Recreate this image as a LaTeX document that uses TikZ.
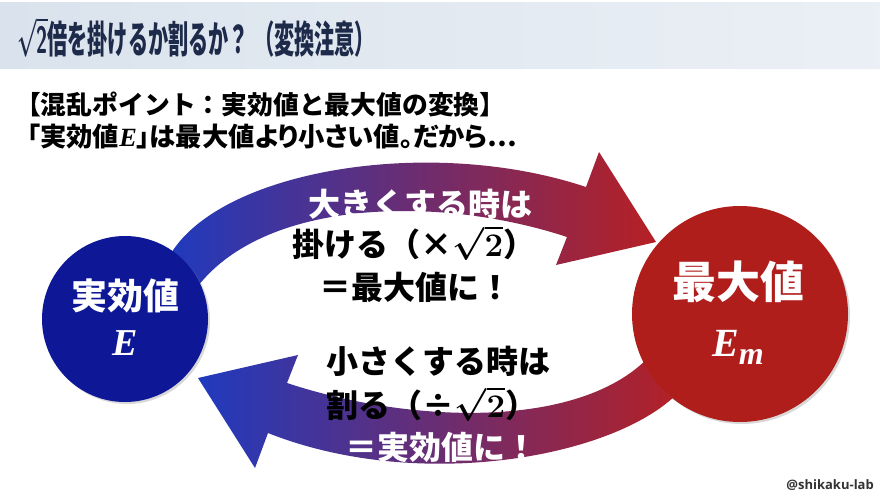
\documentclass[tikz,border=0pt]{standalone}
\usepackage{fix-cm}
\usepackage{amsmath,amssymb}
\usepackage{fontspec}
\usetikzlibrary{shadows}
\newfontfamily\jp{Noto Sans CJK JP}
\newfontfamily\jpp{Noto Sans CJK JP}[RawFeature=+palt]
\newfontfamily\serifE{Liberation Serif}
\newfontfamily\wmfont{Open Sans}
\definecolor{titlebg}{HTML}{DAE3ED}
\definecolor{titlecol}{HTML}{1E2A4A}
\definecolor{circblue}{RGB}{14,24,150}
\definecolor{circred}{RGB}{176,30,28}
\definecolor{arrblue}{RGB}{32,58,190}
\definecolor{arrmid}{RGB}{105,40,125}
\definecolor{arrred}{RGB}{182,32,36}
\newcommand\bigroot{\smash{\fontsize{33}{33}\selectfont\boldmath$\sqrt{2}$}}
\newcommand\titleroot{\smash{\boldmath$\sqrt{\mathsf{2}}$}}
\tikzset{
  arrtext/.style={inner sep=0pt, font=\fontsize{32}{32}\selectfont\jp\bfseries},
  leadtext/.style={inner sep=0pt, anchor=west, text=black, font=\fontsize{25.8}{26}\selectfont\jp\bfseries},
  circnode/.style={circle, inner sep=0pt, drop shadow={opacity=0.3, shadow xshift=2pt, shadow yshift=-2pt}},
  circtext/.style={inner sep=0pt, text=white}
}
\begin{document}
\begin{tikzpicture}[x=1pt,y=-1pt]
\useasboundingbox (0,0) rectangle (880,495);
\fill[white] (0,0) rectangle (880,495);
\shade[left color=titlebg, right color=titlebg!55!white] (0,3) rectangle (880,68);
\node[anchor=west, inner sep=0pt, text=titlecol] (title) at (17,39)
  {\scalebox{0.53}[1]{\fontsize{38}{38}\selectfont\jp\bfseries\titleroot 倍を掛けるか割るか？\hspace{0.25em}（変換注意）}};
\node[leadtext] (lead1) at (15,104) {【混乱ポイント：実効値と最大値の変換】};
\node[leadtext] (lead2) at (27,137) {\fontsize{26.3}{26}\selectfont\jpp「実効値{\serifE\bfseries\itshape E}」は最大値より小さい値。だから⋯};
% top arrow
\shade[left color=arrblue, middle color=arrmid, right color=arrred]
  (170,255) .. controls (220,170) and (430,135) .. (586,187) -- (599,152) -- (656,242)
  -- (556,265) -- (567,237) .. controls (440,195) and (262,198) .. (195,290) -- cycle;
% bottom arrow
\shade[left color=arrblue, middle color=arrmid, right color=arrred]
  (655,350) .. controls (590,430) and (414,425) .. (287,383) -- (298,355) -- (198,378)
  -- (255,468) -- (268,433) .. controls (424,495) and (630,455) .. (685,385) -- cycle;
% circles
\node[circnode, fill=circblue, minimum size=166] (eff) at (125,319) {};
\node[circnode, fill=circred, minimum size=216] (max) at (740,314) {};
\node[circtext] (effT) at (125,296) {\fontsize{36}{36}\selectfont\jp\bfseries 実効値};
\node[circtext] (effE) at (125,343) {\fontsize{38}{38}\selectfont\serifE\bfseries\itshape E};
\node[circtext] (maxT) at (738,282) {\fontsize{44}{44}\selectfont\jp\bfseries 最大値};
\node[circtext] (maxE) at (738,347) {\fontsize{40}{40}\selectfont\serifE\bfseries\itshape E\raisebox{-0.2em}{\fontsize{32}{32}\selectfont m}};
% arrow texts
\node[arrtext, text=white] (up1) at (420,204) {大きくする時は};
\node[arrtext] (up2) at (414,244) {掛ける（×\bigroot）};
\node[arrtext] (up3) at (415,287) {＝最大値に！};
\node[arrtext] (dn1) at (438,361) {小さくする時は};
\node[arrtext] (dn2) at (432,405) {割る（÷\bigroot）};
\node[arrtext, text=white] (dn3) at (441,447) {＝実効値に！};
\node[anchor=east, inner sep=0pt, text=black!80] (wm) at (874,485) {\fontsize{13}{13}\selectfont\wmfont\bfseries @shikaku-lab};
\end{tikzpicture}
\end{document}
